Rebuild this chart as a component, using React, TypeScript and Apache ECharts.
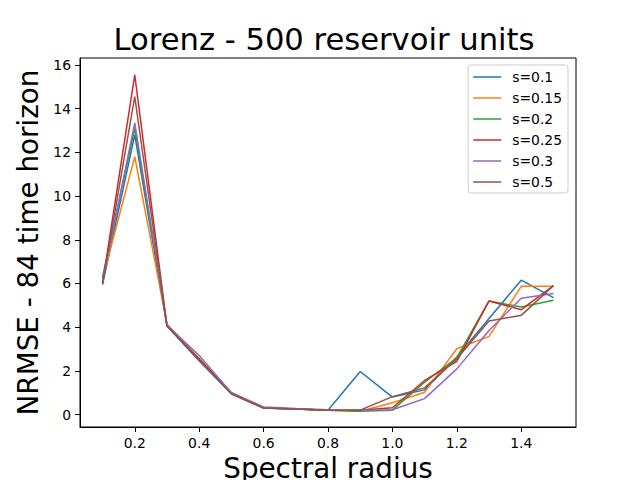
import React, { useEffect, useRef } from "react";
import * as echarts from "echarts";

const radius = [0.1, 0.2, 0.3, 0.4, 0.5, 0.6, 0.7, 0.8, 0.9, 1.0, 1.1, 1.2, 1.3, 1.4, 1.5];
const seriesNames = ["s=0.1", "s=0.15", "s=0.2", "s=0.25", "s=0.3", "s=0.5"];
const colors = ["#1f77b4", "#ff7f0e", "#2ca02c", "#d62728", "#9467bd", "#8c564b"];
const s01 = [5.95, 12.8, 4.05, 2.45, 0.95, 0.3, 0.25, 0.2, 1.97, 0.8, 1.13, 2.63, 4.4, 6.15, 5.35];
const s015 = [6.2, 11.8, 4.15, 2.5, 1.0, 0.32, 0.25, 0.2, 0.15, 0.54, 1.02, 3.01, 3.58, 5.87, 5.87];
const s02 = [6.3, 13.1, 4.1, 2.55, 1.0, 0.3, 0.25, 0.2, 0.15, 0.2, 1.48, 2.6, 5.2, 4.92, 5.23];
const s025 = [6.0, 15.55, 4.05, 2.55, 0.95, 0.3, 0.25, 0.2, 0.2, 0.31, 1.56, 2.43, 5.2, 4.8, 5.9];
const s03 = [6.1, 13.35, 4.1, 2.7, 1.0, 0.35, 0.28, 0.22, 0.2, 0.22, 0.73, 2.09, 3.85, 5.32, 5.54];
const s05 = [6.0, 14.55, 4.05, 2.5, 0.95, 0.3, 0.25, 0.2, 0.2, 0.82, 1.22, 2.55, 4.28, 4.54, 5.9];
const allValues = [s01, s015, s02, s025, s03, s05];
const xTicks = [0.2, 0.4, 0.6, 0.8, 1.0, 1.2, 1.4];
const yTicks = [0, 2, 4, 6, 8, 10, 12, 14, 16];

const FONT = "DejaVu Sans";

export default function App() {
  const ref = useRef<HTMLDivElement>(null);
  useEffect(() => {
    if (!ref.current) return;
    const chart = echarts.init(ref.current, null, { renderer: "svg" });
    const option = {
      animation: false,
      backgroundColor: "#ffffff",
      textStyle: { fontFamily: FONT },
      graphic: [
        {
          type: "text",
          x: 324,
          y: 39,
          style: {
            text: "Lorenz - 500 reservoir units",
            fontSize: 30.6,
            fontFamily: FONT,
            fill: "#000",
            textAlign: "center",
            textVerticalAlign: "middle",
          },
        },
      ],
      grid: {
        left: 80,
        right: 64,
        top: 58,
        bottom: 53,
        show: true,
        borderColor: "#000",
        borderWidth: 1,
        containLabel: false,
        outerBoundsMode: "none",
      },
      legend: {
        orient: "vertical",
        right: 72,
        top: 65,
        padding: [5, 6, 4, 5],
        itemWidth: 28,
        itemHeight: 14,
        itemGap: 7.0,
        borderColor: "#cccccc",
        borderWidth: 1,
        borderRadius: 3,
        backgroundColor: "rgba(255,255,255,0.8)",
        textStyle: { fontSize: 13.9, fontFamily: FONT, color: "#000", padding: [0, 0, 0, 6] },
        data: seriesNames.map((n) => ({ name: n, icon: "path://M0,0 L28,0 L28,1.5 L0,1.5 Z" })),
      },
      xAxis: {
        type: "value",
        min: 0.03,
        max: 1.57,
        name: "Spectral radius",
        nameLocation: "middle",
        nameGap: 25,
        nameTextStyle: { fontSize: 27.8, fontFamily: FONT, color: "#000" },
        axisLine: { show: true, onZero: false, lineStyle: { color: "#000", width: 1 } },
        axisTick: { show: true, length: 5, lineStyle: { color: "#000" }, customValues: xTicks },
        axisLabel: {
          color: "#000",
          fontSize: 13.9,
          fontFamily: FONT,
          margin: 9,
          customValues: xTicks,
          formatter: (v: number) => v.toFixed(1),
        },
        splitLine: { show: false },
      },
      yAxis: {
        type: "value",
        min: -0.57,
        max: 16.32,
        name: "NRMSE - 84 time horizon",
        nameLocation: "middle",
        nameGap: 34,
        nameTextStyle: { fontSize: 27.8, fontFamily: FONT, color: "#000" },
        axisLine: { show: true, onZero: false, lineStyle: { color: "#000", width: 1 } },
        axisTick: { show: true, length: 5, lineStyle: { color: "#000" }, customValues: yTicks },
        axisLabel: {
          color: "#000",
          fontSize: 13.9,
          fontFamily: FONT,
          margin: 9,
          customValues: yTicks,
          formatter: (v: number) => String(Math.round(v)),
        },
        splitLine: { show: false },
      },
      series: seriesNames.map((name, i) => ({
        name,
        type: "line",
        symbol: "none",
        showSymbol: false,
        color: colors[i],
        lineStyle: { width: 1.5, color: colors[i] },
        data: radius.map((x, j) => [x, allValues[i][j]]),
      })),
    };
    chart.setOption(option as any);
    return () => chart.dispose();
  }, []);
  return (
    <div
      ref={ref}
      style={{ position: "fixed", left: 0, top: 0, width: 640, height: 480 }}
    />
  );
}
